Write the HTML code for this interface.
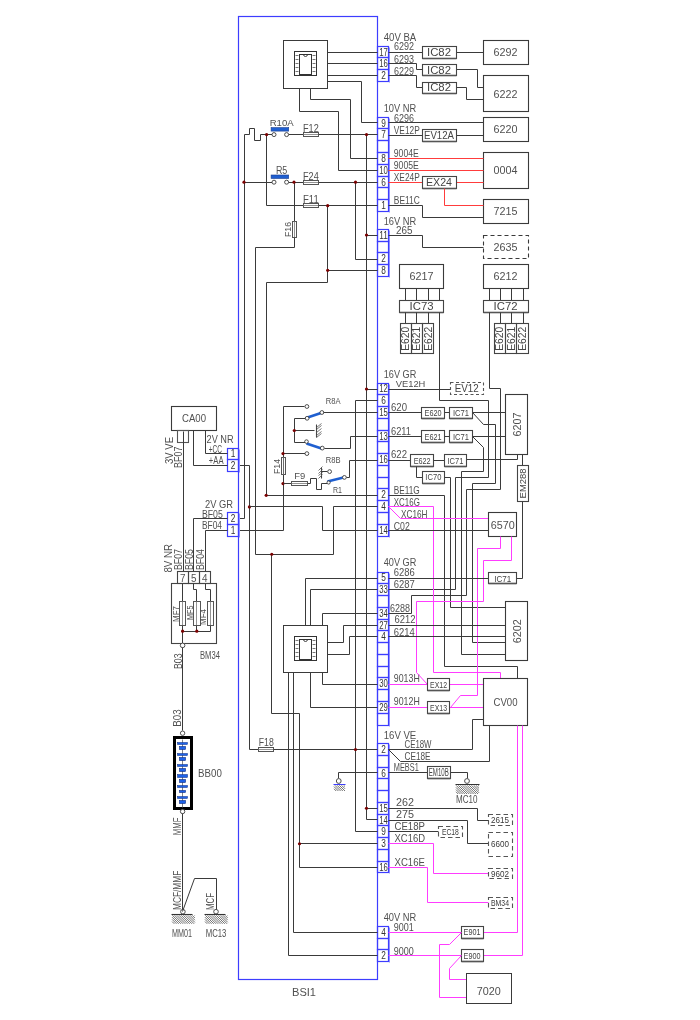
<!DOCTYPE html>
<html><head><meta charset="utf-8"><style>
html,body{margin:0;padding:0;background:#fff;}
svg{display:block;font-family:"Liberation Sans",sans-serif;will-change:transform;}
</style></head><body>
<svg width="700" height="1020" viewBox="0 0 700 1020">
<rect x="0" y="0" width="700" height="1020" fill="#fff"/>
<rect x="238.5" y="16.5" width="139" height="963" fill="none" stroke="#3d3dff" stroke-width="1.2"/>
<text x="304" y="995.5" font-size="10.5" text-anchor="middle" fill="#505050" textLength="24" lengthAdjust="spacingAndGlyphs">BSI1</text>
<polyline points="389.5,47.5 389.5,82.5" fill="none" stroke="#9a9aff" stroke-width="1" />
<rect x="377.5" y="46.5" width="11" height="11" fill="none" stroke="#3d3dff" stroke-width="1.2"/>
<text x="383.6" y="55.69" font-size="10" text-anchor="middle" fill="#333" textLength="8.6" lengthAdjust="spacingAndGlyphs">17</text>
<rect x="377.5" y="57.5" width="11" height="12" fill="none" stroke="#3d3dff" stroke-width="1.2"/>
<text x="383.6" y="67.45" font-size="10" text-anchor="middle" fill="#333" textLength="8.6" lengthAdjust="spacingAndGlyphs">16</text>
<rect x="377.5" y="69.5" width="11" height="12" fill="none" stroke="#3d3dff" stroke-width="1.2"/>
<text x="383.6" y="79.22" font-size="10" text-anchor="middle" fill="#333" textLength="4.6" lengthAdjust="spacingAndGlyphs">2</text>
<polyline points="389.5,118.5 389.5,212.5" fill="none" stroke="#9a9aff" stroke-width="1" />
<rect x="377.5" y="117.5" width="11" height="11" fill="none" stroke="#3d3dff" stroke-width="1.2"/>
<text x="383.6" y="126.69" font-size="10" text-anchor="middle" fill="#333" textLength="4.6" lengthAdjust="spacingAndGlyphs">9</text>
<rect x="377.5" y="128.5" width="11" height="12" fill="none" stroke="#3d3dff" stroke-width="1.2"/>
<text x="383.6" y="138.46" font-size="10" text-anchor="middle" fill="#333" textLength="4.6" lengthAdjust="spacingAndGlyphs">7</text>
<rect x="377.5" y="140.5" width="11" height="12" fill="none" stroke="#3d3dff" stroke-width="1.2"/>
<rect x="377.5" y="152.5" width="11" height="12" fill="none" stroke="#3d3dff" stroke-width="1.2"/>
<text x="383.6" y="161.99" font-size="10" text-anchor="middle" fill="#333" textLength="4.6" lengthAdjust="spacingAndGlyphs">8</text>
<rect x="377.5" y="164.5" width="11" height="12" fill="none" stroke="#3d3dff" stroke-width="1.2"/>
<text x="383.6" y="173.77" font-size="10" text-anchor="middle" fill="#333" textLength="8.6" lengthAdjust="spacingAndGlyphs">10</text>
<rect x="377.5" y="176.5" width="11" height="11" fill="none" stroke="#3d3dff" stroke-width="1.2"/>
<text x="383.6" y="185.53" font-size="10" text-anchor="middle" fill="#333" textLength="4.6" lengthAdjust="spacingAndGlyphs">6</text>
<rect x="377.5" y="187.5" width="11" height="12" fill="none" stroke="#3d3dff" stroke-width="1.2"/>
<rect x="377.5" y="199.5" width="11" height="12" fill="none" stroke="#3d3dff" stroke-width="1.2"/>
<text x="383.6" y="209.08" font-size="10" text-anchor="middle" fill="#333" textLength="4.6" lengthAdjust="spacingAndGlyphs">1</text>
<polyline points="389.5,230.5 389.5,277.5" fill="none" stroke="#9a9aff" stroke-width="1" />
<rect x="377.5" y="229.5" width="11" height="12" fill="none" stroke="#3d3dff" stroke-width="1.2"/>
<text x="383.6" y="238.78" font-size="10" text-anchor="middle" fill="#333" textLength="8.6" lengthAdjust="spacingAndGlyphs">11</text>
<rect x="377.5" y="241.5" width="11" height="11" fill="none" stroke="#3d3dff" stroke-width="1.2"/>
<rect x="377.5" y="252.5" width="11" height="12" fill="none" stroke="#3d3dff" stroke-width="1.2"/>
<text x="383.6" y="262.33" font-size="10" text-anchor="middle" fill="#333" textLength="4.6" lengthAdjust="spacingAndGlyphs">2</text>
<rect x="377.5" y="264.5" width="11" height="12" fill="none" stroke="#3d3dff" stroke-width="1.2"/>
<text x="383.6" y="274.1" font-size="10" text-anchor="middle" fill="#333" textLength="4.6" lengthAdjust="spacingAndGlyphs">8</text>
<polyline points="389.5,384.5 389.5,537.5" fill="none" stroke="#9a9aff" stroke-width="1" />
<rect x="377.5" y="383.5" width="11" height="11" fill="none" stroke="#3d3dff" stroke-width="1.2"/>
<text x="383.6" y="392.49" font-size="10" text-anchor="middle" fill="#333" textLength="8.6" lengthAdjust="spacingAndGlyphs">12</text>
<rect x="377.5" y="394.5" width="11" height="12" fill="none" stroke="#3d3dff" stroke-width="1.2"/>
<text x="383.6" y="404.25" font-size="10" text-anchor="middle" fill="#333" textLength="4.6" lengthAdjust="spacingAndGlyphs">6</text>
<rect x="377.5" y="406.5" width="11" height="12" fill="none" stroke="#3d3dff" stroke-width="1.2"/>
<text x="383.6" y="416.03" font-size="10" text-anchor="middle" fill="#333" textLength="8.6" lengthAdjust="spacingAndGlyphs">15</text>
<rect x="377.5" y="418.5" width="11" height="12" fill="none" stroke="#3d3dff" stroke-width="1.2"/>
<rect x="377.5" y="430.5" width="11" height="11" fill="none" stroke="#3d3dff" stroke-width="1.2"/>
<text x="383.6" y="439.56" font-size="10" text-anchor="middle" fill="#333" textLength="8.6" lengthAdjust="spacingAndGlyphs">13</text>
<rect x="377.5" y="441.5" width="11" height="12" fill="none" stroke="#3d3dff" stroke-width="1.2"/>
<rect x="377.5" y="453.5" width="11" height="12" fill="none" stroke="#3d3dff" stroke-width="1.2"/>
<text x="383.6" y="463.11" font-size="10" text-anchor="middle" fill="#333" textLength="8.6" lengthAdjust="spacingAndGlyphs">16</text>
<rect x="377.5" y="465.5" width="11" height="12" fill="none" stroke="#3d3dff" stroke-width="1.2"/>
<rect x="377.5" y="477.5" width="11" height="11" fill="none" stroke="#3d3dff" stroke-width="1.2"/>
<rect x="377.5" y="488.5" width="11" height="12" fill="none" stroke="#3d3dff" stroke-width="1.2"/>
<text x="383.6" y="498.42" font-size="10" text-anchor="middle" fill="#333" textLength="4.6" lengthAdjust="spacingAndGlyphs">2</text>
<rect x="377.5" y="500.5" width="11" height="12" fill="none" stroke="#3d3dff" stroke-width="1.2"/>
<text x="383.6" y="510.19" font-size="10" text-anchor="middle" fill="#333" textLength="4.6" lengthAdjust="spacingAndGlyphs">4</text>
<rect x="377.5" y="512.5" width="11" height="12" fill="none" stroke="#3d3dff" stroke-width="1.2"/>
<rect x="377.5" y="524.5" width="11" height="12" fill="none" stroke="#3d3dff" stroke-width="1.2"/>
<text x="383.6" y="533.73" font-size="10" text-anchor="middle" fill="#333" textLength="8.6" lengthAdjust="spacingAndGlyphs">14</text>
<polyline points="389.5,573.5 389.5,726.5" fill="none" stroke="#9a9aff" stroke-width="1" />
<rect x="377.5" y="572.5" width="11" height="11" fill="none" stroke="#3d3dff" stroke-width="1.2"/>
<text x="383.6" y="581.49" font-size="10" text-anchor="middle" fill="#333" textLength="4.6" lengthAdjust="spacingAndGlyphs">5</text>
<rect x="377.5" y="583.5" width="11" height="12" fill="none" stroke="#3d3dff" stroke-width="1.2"/>
<text x="383.6" y="593.25" font-size="10" text-anchor="middle" fill="#333" textLength="8.6" lengthAdjust="spacingAndGlyphs">33</text>
<rect x="377.5" y="595.5" width="11" height="12" fill="none" stroke="#3d3dff" stroke-width="1.2"/>
<rect x="377.5" y="607.5" width="11" height="12" fill="none" stroke="#3d3dff" stroke-width="1.2"/>
<text x="383.6" y="616.79" font-size="10" text-anchor="middle" fill="#333" textLength="8.6" lengthAdjust="spacingAndGlyphs">34</text>
<rect x="377.5" y="619.5" width="11" height="11" fill="none" stroke="#3d3dff" stroke-width="1.2"/>
<text x="383.6" y="628.57" font-size="10" text-anchor="middle" fill="#333" textLength="8.6" lengthAdjust="spacingAndGlyphs">27</text>
<rect x="377.5" y="630.5" width="11" height="12" fill="none" stroke="#3d3dff" stroke-width="1.2"/>
<text x="383.6" y="640.34" font-size="10" text-anchor="middle" fill="#333" textLength="4.6" lengthAdjust="spacingAndGlyphs">4</text>
<rect x="377.5" y="642.5" width="11" height="12" fill="none" stroke="#3d3dff" stroke-width="1.2"/>
<rect x="377.5" y="654.5" width="11" height="12" fill="none" stroke="#3d3dff" stroke-width="1.2"/>
<rect x="377.5" y="666.5" width="11" height="11" fill="none" stroke="#3d3dff" stroke-width="1.2"/>
<rect x="377.5" y="677.5" width="11" height="12" fill="none" stroke="#3d3dff" stroke-width="1.2"/>
<text x="383.6" y="687.41" font-size="10" text-anchor="middle" fill="#333" textLength="8.6" lengthAdjust="spacingAndGlyphs">30</text>
<rect x="377.5" y="689.5" width="11" height="12" fill="none" stroke="#3d3dff" stroke-width="1.2"/>
<rect x="377.5" y="701.5" width="11" height="12" fill="none" stroke="#3d3dff" stroke-width="1.2"/>
<text x="383.6" y="710.96" font-size="10" text-anchor="middle" fill="#333" textLength="8.6" lengthAdjust="spacingAndGlyphs">29</text>
<rect x="377.5" y="713.5" width="11" height="12" fill="none" stroke="#3d3dff" stroke-width="1.2"/>
<polyline points="389.5,744.5 389.5,873.5" fill="none" stroke="#9a9aff" stroke-width="1" />
<rect x="377.5" y="743.5" width="11" height="12" fill="none" stroke="#3d3dff" stroke-width="1.2"/>
<text x="383.6" y="752.99" font-size="10" text-anchor="middle" fill="#333" textLength="4.6" lengthAdjust="spacingAndGlyphs">2</text>
<rect x="377.5" y="755.5" width="11" height="12" fill="none" stroke="#3d3dff" stroke-width="1.2"/>
<rect x="377.5" y="767.5" width="11" height="11" fill="none" stroke="#3d3dff" stroke-width="1.2"/>
<text x="383.6" y="776.52" font-size="10" text-anchor="middle" fill="#333" textLength="4.6" lengthAdjust="spacingAndGlyphs">6</text>
<rect x="377.5" y="778.5" width="11" height="12" fill="none" stroke="#3d3dff" stroke-width="1.2"/>
<rect x="377.5" y="790.5" width="11" height="12" fill="none" stroke="#3d3dff" stroke-width="1.2"/>
<rect x="377.5" y="802.5" width="11" height="12" fill="none" stroke="#3d3dff" stroke-width="1.2"/>
<text x="383.6" y="811.84" font-size="10" text-anchor="middle" fill="#333" textLength="8.6" lengthAdjust="spacingAndGlyphs">15</text>
<rect x="377.5" y="814.5" width="11" height="11" fill="none" stroke="#3d3dff" stroke-width="1.2"/>
<text x="383.6" y="823.61" font-size="10" text-anchor="middle" fill="#333" textLength="8.6" lengthAdjust="spacingAndGlyphs">14</text>
<rect x="377.5" y="825.5" width="11" height="12" fill="none" stroke="#3d3dff" stroke-width="1.2"/>
<text x="383.6" y="835.38" font-size="10" text-anchor="middle" fill="#333" textLength="4.6" lengthAdjust="spacingAndGlyphs">9</text>
<rect x="377.5" y="837.5" width="11" height="12" fill="none" stroke="#3d3dff" stroke-width="1.2"/>
<text x="383.6" y="847.14" font-size="10" text-anchor="middle" fill="#333" textLength="4.6" lengthAdjust="spacingAndGlyphs">3</text>
<rect x="377.5" y="849.5" width="11" height="12" fill="none" stroke="#3d3dff" stroke-width="1.2"/>
<rect x="377.5" y="861.5" width="11" height="11" fill="none" stroke="#3d3dff" stroke-width="1.2"/>
<text x="383.6" y="870.69" font-size="10" text-anchor="middle" fill="#333" textLength="8.6" lengthAdjust="spacingAndGlyphs">16</text>
<polyline points="389.5,927.5 389.5,962.5" fill="none" stroke="#9a9aff" stroke-width="1" />
<rect x="377.5" y="926.5" width="11" height="12" fill="none" stroke="#3d3dff" stroke-width="1.2"/>
<text x="383.6" y="935.88" font-size="10" text-anchor="middle" fill="#333" textLength="4.6" lengthAdjust="spacingAndGlyphs">4</text>
<rect x="377.5" y="938.5" width="11" height="11" fill="none" stroke="#3d3dff" stroke-width="1.2"/>
<rect x="377.5" y="949.5" width="11" height="12" fill="none" stroke="#3d3dff" stroke-width="1.2"/>
<text x="383.6" y="959.42" font-size="10" text-anchor="middle" fill="#333" textLength="4.6" lengthAdjust="spacingAndGlyphs">2</text>
<text x="383.7" y="40.5" font-size="10" text-anchor="start" fill="#505050" textLength="32.6" lengthAdjust="spacingAndGlyphs">40V  BA</text>
<text x="383.7" y="111.5" font-size="10" text-anchor="start" fill="#505050" textLength="32.6" lengthAdjust="spacingAndGlyphs">10V  NR</text>
<text x="383.7" y="225" font-size="10" text-anchor="start" fill="#505050" textLength="32.6" lengthAdjust="spacingAndGlyphs">16V  NR</text>
<text x="383.7" y="377.7" font-size="10" text-anchor="start" fill="#505050" textLength="32.6" lengthAdjust="spacingAndGlyphs">16V  GR</text>
<text x="383.7" y="566" font-size="10" text-anchor="start" fill="#505050" textLength="32.6" lengthAdjust="spacingAndGlyphs">40V  GR</text>
<text x="383.7" y="739" font-size="10" text-anchor="start" fill="#505050" textLength="32.6" lengthAdjust="spacingAndGlyphs">16V  VE</text>
<text x="383.7" y="921" font-size="10" text-anchor="start" fill="#505050" textLength="32.6" lengthAdjust="spacingAndGlyphs">40V  NR</text>
<text x="394" y="49.5" font-size="10.5" text-anchor="start" fill="#505050" textLength="20" lengthAdjust="spacingAndGlyphs">6292</text>
<text x="394" y="62.5" font-size="10.5" text-anchor="start" fill="#505050" textLength="20" lengthAdjust="spacingAndGlyphs">6293</text>
<text x="394" y="74.5" font-size="10.5" text-anchor="start" fill="#505050" textLength="20" lengthAdjust="spacingAndGlyphs">6229</text>
<text x="394" y="121.5" font-size="10.5" text-anchor="start" fill="#505050" textLength="20" lengthAdjust="spacingAndGlyphs">6296</text>
<text x="393.8" y="134" font-size="10.5" text-anchor="start" fill="#505050" textLength="26" lengthAdjust="spacingAndGlyphs">VE12P</text>
<text x="393.8" y="157" font-size="10.5" text-anchor="start" fill="#505050" textLength="25" lengthAdjust="spacingAndGlyphs">9004E</text>
<text x="393.8" y="169" font-size="10.5" text-anchor="start" fill="#505050" textLength="25" lengthAdjust="spacingAndGlyphs">9005E</text>
<text x="393.8" y="180.5" font-size="10.5" text-anchor="start" fill="#505050" textLength="26" lengthAdjust="spacingAndGlyphs">XE24P</text>
<text x="393.8" y="204" font-size="10.5" text-anchor="start" fill="#505050" textLength="26" lengthAdjust="spacingAndGlyphs">BE11C</text>
<text x="396" y="234" font-size="10.5" text-anchor="start" fill="#505050" textLength="16.5" lengthAdjust="spacingAndGlyphs">265</text>
<text x="395.7" y="387" font-size="9" text-anchor="start" fill="#505050" textLength="29.7" lengthAdjust="spacingAndGlyphs">VE12H</text>
<text x="391" y="411" font-size="10.5" text-anchor="start" fill="#505050" textLength="16" lengthAdjust="spacingAndGlyphs">620</text>
<text x="391" y="435" font-size="10.5" text-anchor="start" fill="#505050" textLength="20" lengthAdjust="spacingAndGlyphs">6211</text>
<text x="391" y="458.3" font-size="10.5" text-anchor="start" fill="#505050" textLength="16" lengthAdjust="spacingAndGlyphs">622</text>
<text x="393.8" y="494" font-size="10.5" text-anchor="start" fill="#505050" textLength="26" lengthAdjust="spacingAndGlyphs">BE11G</text>
<text x="393.8" y="506" font-size="10.5" text-anchor="start" fill="#505050" textLength="26" lengthAdjust="spacingAndGlyphs">XC16G</text>
<text x="401" y="518" font-size="10.5" text-anchor="start" fill="#505050" textLength="26.5" lengthAdjust="spacingAndGlyphs">XC16H</text>
<text x="393.8" y="530" font-size="10.5" text-anchor="start" fill="#505050" textLength="16" lengthAdjust="spacingAndGlyphs">C02</text>
<text x="393.8" y="576" font-size="10.5" text-anchor="start" fill="#505050" textLength="21" lengthAdjust="spacingAndGlyphs">6286</text>
<text x="393.8" y="587.5" font-size="10.5" text-anchor="start" fill="#505050" textLength="21" lengthAdjust="spacingAndGlyphs">6287</text>
<text x="390" y="612" font-size="10.5" text-anchor="start" fill="#505050" textLength="20" lengthAdjust="spacingAndGlyphs">6288</text>
<text x="394.5" y="623" font-size="10.5" text-anchor="start" fill="#505050" textLength="21" lengthAdjust="spacingAndGlyphs">6212</text>
<text x="393.8" y="635.5" font-size="10.5" text-anchor="start" fill="#505050" textLength="21" lengthAdjust="spacingAndGlyphs">6214</text>
<text x="393.8" y="682" font-size="10.5" text-anchor="start" fill="#505050" textLength="26" lengthAdjust="spacingAndGlyphs">9013H</text>
<text x="393.8" y="705" font-size="10.5" text-anchor="start" fill="#505050" textLength="26" lengthAdjust="spacingAndGlyphs">9012H</text>
<text x="404.5" y="747.5" font-size="10.5" text-anchor="start" fill="#505050" textLength="27" lengthAdjust="spacingAndGlyphs">CE18W</text>
<text x="404.5" y="760" font-size="10.5" text-anchor="start" fill="#505050" textLength="26" lengthAdjust="spacingAndGlyphs">CE18E</text>
<text x="393.8" y="771.3" font-size="10.5" text-anchor="start" fill="#505050" textLength="25" lengthAdjust="spacingAndGlyphs">MEBS1</text>
<text x="396" y="806.3" font-size="10.5" text-anchor="start" fill="#505050" textLength="18" lengthAdjust="spacingAndGlyphs">262</text>
<text x="396" y="818" font-size="10.5" text-anchor="start" fill="#505050" textLength="18" lengthAdjust="spacingAndGlyphs">275</text>
<text x="394.5" y="830" font-size="10.5" text-anchor="start" fill="#505050" textLength="30.5" lengthAdjust="spacingAndGlyphs">CE18P</text>
<text x="394.5" y="842" font-size="10.5" text-anchor="start" fill="#505050" textLength="30.5" lengthAdjust="spacingAndGlyphs">XC16D</text>
<text x="394.5" y="865.5" font-size="10.5" text-anchor="start" fill="#505050" textLength="30.5" lengthAdjust="spacingAndGlyphs">XC16E</text>
<text x="393.8" y="931.3" font-size="10.5" text-anchor="start" fill="#505050" textLength="20" lengthAdjust="spacingAndGlyphs">9001</text>
<text x="393.8" y="954.5" font-size="10.5" text-anchor="start" fill="#505050" textLength="20" lengthAdjust="spacingAndGlyphs">9000</text>
<rect x="283.5" y="40.5" width="44" height="48" fill="none" stroke="#3a3a3a" stroke-width="1.0"/>
<rect x="294.5" y="51.5" width="22" height="24" fill="none" stroke="#333" stroke-width="1.0"/>
<rect x="299.5" y="54.5" width="12" height="20" fill="none" stroke="#333" stroke-width="1.0"/>
<polyline points="295.5,55.5 298.5,55.5" fill="none" stroke="#777" stroke-width="1" />
<polyline points="312.5,55.5 315.5,55.5" fill="none" stroke="#777" stroke-width="1" />
<polyline points="295.5,59.5 298.5,59.5" fill="none" stroke="#777" stroke-width="1" />
<polyline points="312.5,59.5 315.5,59.5" fill="none" stroke="#777" stroke-width="1" />
<polyline points="295.5,63.5 298.5,63.5" fill="none" stroke="#777" stroke-width="1" />
<polyline points="312.5,63.5 315.5,63.5" fill="none" stroke="#777" stroke-width="1" />
<polyline points="295.5,67.5 298.5,67.5" fill="none" stroke="#777" stroke-width="1" />
<polyline points="312.5,67.5 315.5,67.5" fill="none" stroke="#777" stroke-width="1" />
<polyline points="295.5,71.5 298.5,71.5" fill="none" stroke="#777" stroke-width="1" />
<polyline points="312.5,71.5 315.5,71.5" fill="none" stroke="#777" stroke-width="1" />
<path d="M303.5,54.5 a2,2 0 0 0 4,0" fill="none" stroke="#333" stroke-width="0.9"/>
<polyline points="327.5,52.5 377.5,52.5" fill="none" stroke="#3a3a3a" stroke-width="1.0" />
<polyline points="327.5,63.5 377.5,63.5" fill="none" stroke="#3a3a3a" stroke-width="1.0" />
<polyline points="327.5,75.5 377.5,75.5" fill="none" stroke="#3a3a3a" stroke-width="1.0" />
<polyline points="327.5,81.5 361.5,81.5 361.5,122.5 377.5,122.5" fill="none" stroke="#3a3a3a" stroke-width="1.0" />
<polyline points="299.5,88.5 299.5,111.5 338.5,111.5 338.5,170.5 377.5,170.5" fill="none" stroke="#3a3a3a" stroke-width="1.0" />
<polyline points="310.5,88.5 310.5,99.5 350.5,99.5 350.5,158.5 377.5,158.5" fill="none" stroke="#3a3a3a" stroke-width="1.0" />
<polyline points="388.5,52.5 422.5,52.5" fill="none" stroke="#3a3a3a" stroke-width="1.0" />
<polyline points="456.5,52.5 483.5,52.5" fill="none" stroke="#3a3a3a" stroke-width="1.0" />
<polyline points="388.5,63.5 416.5,63.5 416.5,69.5 422.5,69.5" fill="none" stroke="#3a3a3a" stroke-width="1.0" />
<polyline points="388.5,75.5 416.5,75.5 416.5,87.5 422.5,87.5" fill="none" stroke="#3a3a3a" stroke-width="1.0" />
<polyline points="456.5,69.5 477.5,69.5 477.5,87.5 483.5,87.5" fill="none" stroke="#3a3a3a" stroke-width="1.0" />
<polyline points="456.5,87.5 466.5,87.5 466.5,99.5 483.5,99.5" fill="none" stroke="#3a3a3a" stroke-width="1.0" />
<rect x="422.5" y="46.5" width="34" height="12" fill="none" stroke="#444" stroke-width="1.1"/>
<polyline points="422.5,58.5 456.5,58.5" fill="none" stroke="#555" stroke-width="1.6" />
<text x="439" y="55.73" font-size="10" text-anchor="middle" fill="#444" textLength="24" lengthAdjust="spacingAndGlyphs">IC82</text>
<rect x="422.5" y="64.5" width="34" height="11" fill="none" stroke="#444" stroke-width="1.1"/>
<polyline points="422.5,75.5 456.5,75.5" fill="none" stroke="#555" stroke-width="1.6" />
<text x="439" y="73.72" font-size="10" text-anchor="middle" fill="#444" textLength="24" lengthAdjust="spacingAndGlyphs">IC82</text>
<rect x="422.5" y="82.5" width="34" height="11" fill="none" stroke="#444" stroke-width="1.1"/>
<polyline points="422.5,93.5 456.5,93.5" fill="none" stroke="#555" stroke-width="1.6" />
<text x="439" y="91.1" font-size="10" text-anchor="middle" fill="#444" textLength="24" lengthAdjust="spacingAndGlyphs">IC82</text>
<rect x="483.5" y="40.5" width="45" height="24" fill="none" stroke="#3a3a3a" stroke-width="1.1"/>
<text x="505.62" y="56.39" font-size="11.5" text-anchor="middle" fill="#505050" textLength="24" lengthAdjust="spacingAndGlyphs">6292</text>
<rect x="483.5" y="75.5" width="45" height="36" fill="none" stroke="#3a3a3a" stroke-width="1.1"/>
<text x="505.62" y="97.52" font-size="11.5" text-anchor="middle" fill="#505050" textLength="24" lengthAdjust="spacingAndGlyphs">6222</text>
<rect x="483.5" y="117.5" width="45" height="24" fill="none" stroke="#3a3a3a" stroke-width="1.1"/>
<text x="505.62" y="133.39" font-size="11.5" text-anchor="middle" fill="#505050" textLength="24" lengthAdjust="spacingAndGlyphs">6220</text>
<rect x="483.5" y="152.5" width="45" height="36" fill="none" stroke="#3a3a3a" stroke-width="1.1"/>
<text x="505.62" y="174.39" font-size="11.5" text-anchor="middle" fill="#505050" textLength="24" lengthAdjust="spacingAndGlyphs">0004</text>
<rect x="483.5" y="199.5" width="45" height="24" fill="none" stroke="#3a3a3a" stroke-width="1.1"/>
<text x="505.62" y="215.39" font-size="11.5" text-anchor="middle" fill="#505050" textLength="24" lengthAdjust="spacingAndGlyphs">7215</text>
<rect x="483.5" y="235.5" width="45" height="23" fill="none" stroke="#3a3a3a" stroke-width="1.1" stroke-dasharray="4,3"/>
<text x="505.62" y="251.01" font-size="11.5" text-anchor="middle" fill="#505050" textLength="24" lengthAdjust="spacingAndGlyphs">2635</text>
<polyline points="388.5,122.5 483.5,122.5" fill="none" stroke="#3a3a3a" stroke-width="1.0" />
<polyline points="388.5,135.5 422.5,135.5" fill="none" stroke="#3a3a3a" stroke-width="1.0" />
<polyline points="456.5,135.5 483.5,135.5" fill="none" stroke="#3a3a3a" stroke-width="1.0" />
<rect x="422.5" y="129.5" width="34" height="12" fill="none" stroke="#444" stroke-width="1.1"/>
<polyline points="422.5,141.5 456.5,141.5" fill="none" stroke="#555" stroke-width="1.6" />
<text x="439" y="138.6" font-size="10" text-anchor="middle" fill="#444" textLength="30" lengthAdjust="spacingAndGlyphs">EV12A</text>
<polyline points="388.5,158.5 483.5,158.5" fill="none" stroke="#ff3c3c" stroke-width="1.0" />
<polyline points="388.5,170.5 483.5,170.5" fill="none" stroke="#ff3c3c" stroke-width="1.0" />
<polyline points="388.5,182.5 422.5,182.5" fill="none" stroke="#ff3c3c" stroke-width="1.0" />
<polyline points="456.5,182.5 483.5,182.5" fill="none" stroke="#ff3c3c" stroke-width="1.0" />
<rect x="422.5" y="176.5" width="34" height="12" fill="none" stroke="#444" stroke-width="1.1"/>
<polyline points="422.5,188.5 456.5,188.5" fill="none" stroke="#555" stroke-width="1.6" />
<text x="439" y="185.6" font-size="10" text-anchor="middle" fill="#444" textLength="26" lengthAdjust="spacingAndGlyphs">EX24</text>
<polyline points="444.5,188.5 444.5,205.5 483.5,205.5" fill="none" stroke="#ff3c3c" stroke-width="1.0" />
<polyline points="388.5,205.5 422.5,205.5 422.5,217.5 483.5,217.5" fill="none" stroke="#3a3a3a" stroke-width="1.0" />
<polyline points="388.5,235.5 422.5,235.5 422.5,247.5 483.5,247.5" fill="none" stroke="#3a3a3a" stroke-width="1.0" />
<polyline points="244.5,134.5 249.5,134.5 249.5,128.5 254.5,128.5 254.5,140.5 260.5,140.5 260.5,134.5 266.5,134.5 272.5,134.5" fill="none" stroke="#3a3a3a" stroke-width="1.0" />
<polyline points="244.5,134.5 244.5,518.5 238.5,518.5" fill="none" stroke="#3a3a3a" stroke-width="1.0" />
<polyline points="288.5,134.5 303.5,134.5" fill="none" stroke="#3a3a3a" stroke-width="1.0" />
<rect x="303.5" y="132.5" width="15" height="4" fill="none" stroke="#555" stroke-width="1.0"/>
<polyline points="303.5,134.5 318.5,134.5" fill="none" stroke="#777" stroke-width="0.8" />
<polyline points="318.5,134.5 377.5,134.5" fill="none" stroke="#3a3a3a" stroke-width="1.0" />
<circle cx="274" cy="134.6" r="2" fill="#fff" stroke="#3a3a3a" stroke-width="0.9"/>
<circle cx="286.6" cy="134.6" r="2" fill="#fff" stroke="#3a3a3a" stroke-width="0.9"/>
<rect x="271.1" y="127.6" width="17.6" height="3.5" fill="#1f5fd0" stroke="#1a3d8f" stroke-width="0.6"/>
<text x="269.7" y="126.4" font-size="9" text-anchor="start" fill="#505050" textLength="24" lengthAdjust="spacingAndGlyphs">R10A</text>
<text x="303" y="132" font-size="10.5" text-anchor="start" fill="#505050" textLength="15.7" lengthAdjust="spacingAndGlyphs">F12</text>
<polyline points="244.5,182.5 272.5,182.5" fill="none" stroke="#3a3a3a" stroke-width="1.0" />
<polyline points="288.5,182.5 303.5,182.5" fill="none" stroke="#3a3a3a" stroke-width="1.0" />
<rect x="303.5" y="180.5" width="15" height="4" fill="none" stroke="#555" stroke-width="1.0"/>
<polyline points="303.5,182.5 318.5,182.5" fill="none" stroke="#777" stroke-width="0.8" />
<polyline points="318.5,182.5 377.5,182.5" fill="none" stroke="#3a3a3a" stroke-width="1.0" />
<circle cx="274" cy="182.2" r="2" fill="#fff" stroke="#3a3a3a" stroke-width="0.9"/>
<circle cx="286.6" cy="182.2" r="2" fill="#fff" stroke="#3a3a3a" stroke-width="0.9"/>
<rect x="271.1" y="175" width="17.6" height="3.5" fill="#1f5fd0" stroke="#1a3d8f" stroke-width="0.6"/>
<text x="275.9" y="173.6" font-size="10" text-anchor="start" fill="#505050" textLength="11.4" lengthAdjust="spacingAndGlyphs">R5</text>
<text x="303" y="180" font-size="10.5" text-anchor="start" fill="#505050" textLength="15.7" lengthAdjust="spacingAndGlyphs">F24</text>
<polyline points="266.5,134.5 266.5,205.5 303.5,205.5" fill="none" stroke="#3a3a3a" stroke-width="1.0" />
<rect x="303.5" y="203.5" width="15" height="4" fill="none" stroke="#555" stroke-width="1.0"/>
<polyline points="303.5,205.5 318.5,205.5" fill="none" stroke="#777" stroke-width="0.8" />
<polyline points="318.5,205.5 377.5,205.5" fill="none" stroke="#3a3a3a" stroke-width="1.0" />
<text x="303" y="203" font-size="10.5" text-anchor="start" fill="#505050" textLength="15.7" lengthAdjust="spacingAndGlyphs">F11</text>
<polyline points="294.5,182.5 294.5,221.5" fill="none" stroke="#3a3a3a" stroke-width="1.0" />
<rect x="292.5" y="221.5" width="4" height="16" fill="none" stroke="#555" stroke-width="1.0"/>
<polyline points="294.5,221.5 294.5,237.5" fill="none" stroke="#777" stroke-width="0.8" />
<polyline points="294.5,237.5 294.5,247.5 255.5,247.5 255.5,554.5 333.5,554.5 333.5,506.5 377.5,506.5" fill="none" stroke="#3a3a3a" stroke-width="1.0" />
<text x="291" y="237" font-size="9.5" text-anchor="start" fill="#505050" textLength="15" lengthAdjust="spacingAndGlyphs" transform="rotate(-90 291 237)">F16</text>
<polyline points="327.5,205.5 327.5,282.5 266.5,282.5 266.5,495.5 377.5,495.5" fill="none" stroke="#3a3a3a" stroke-width="1.0" />
<polyline points="327.5,270.5 377.5,270.5" fill="none" stroke="#3a3a3a" stroke-width="1.0" />
<polyline points="355.5,182.5 355.5,259.5 377.5,259.5" fill="none" stroke="#3a3a3a" stroke-width="1.0" />
<polyline points="366.5,134.5 366.5,819.5 377.5,819.5" fill="none" stroke="#3a3a3a" stroke-width="1.0" />
<polyline points="366.5,235.5 377.5,235.5" fill="none" stroke="#3a3a3a" stroke-width="1.0" />
<polyline points="366.5,389.5 377.5,389.5" fill="none" stroke="#3a3a3a" stroke-width="1.0" />
<circle cx="266.6" cy="134.6" r="1.6" fill="#7a0000"/>
<circle cx="244" cy="182.2" r="1.6" fill="#7a0000"/>
<circle cx="294" cy="182.2" r="1.6" fill="#7a0000"/>
<circle cx="355.5" cy="182.2" r="1.6" fill="#7a0000"/>
<circle cx="327.7" cy="205.7" r="1.6" fill="#7a0000"/>
<circle cx="366.5" cy="134.6" r="1.6" fill="#7a0000"/>
<circle cx="366.5" cy="235" r="1.6" fill="#7a0000"/>
<circle cx="327.7" cy="270.3" r="1.6" fill="#7a0000"/>
<circle cx="366.5" cy="389" r="1.6" fill="#7a0000"/>
<circle cx="266.2" cy="495.3" r="1.6" fill="#7a0000"/>
<polyline points="355.5,400.5 377.5,400.5" fill="none" stroke="#3a3a3a" stroke-width="1.0" />
<polyline points="355.5,400.5 355.5,831.5 377.5,831.5" fill="none" stroke="#3a3a3a" stroke-width="1.0" />
<polyline points="283.5,406.5 304.5,406.5" fill="none" stroke="#3a3a3a" stroke-width="1.0" />
<circle cx="306.9" cy="406.5" r="1.9" fill="#fff" stroke="#3a3a3a" stroke-width="0.9"/>
<polyline points="283.5,406.5 283.5,530.5 238.5,530.5" fill="none" stroke="#3a3a3a" stroke-width="1.0" />
<polyline points="307.5,417.5 322.5,412.5" fill="none" stroke="#1f5fd0" stroke-width="2.8" />
<circle cx="307.1" cy="418.3" r="1.9" fill="#fff" stroke="#3a3a3a" stroke-width="0.9"/>
<circle cx="321.9" cy="412.5" r="1.9" fill="#fff" stroke="#3a3a3a" stroke-width="0.9"/>
<polyline points="323.5,412.5 377.5,412.5" fill="none" stroke="#3a3a3a" stroke-width="1.0" />
<polyline points="305.5,418.5 294.5,418.5 294.5,442.5 305.5,442.5" fill="none" stroke="#3a3a3a" stroke-width="1.0" />
<polyline points="294.5,430.5 314.5,430.5" fill="none" stroke="#3a3a3a" stroke-width="1.0" />
<polyline points="316.5,424.5 316.5,437.5" fill="none" stroke="#444" stroke-width="1.1" />
<polyline points="316.5,427.5 321.5,423.5" fill="none" stroke="#555" stroke-width="0.8" />
<polyline points="316.5,429.5 321.5,425.5" fill="none" stroke="#555" stroke-width="0.8" />
<polyline points="316.5,432.5 321.5,428.5" fill="none" stroke="#555" stroke-width="0.8" />
<polyline points="316.5,435.5 321.5,431.5" fill="none" stroke="#555" stroke-width="0.8" />
<polyline points="316.5,437.5 321.5,433.5" fill="none" stroke="#555" stroke-width="0.8" />
<circle cx="294.3" cy="430.5" r="1.6" fill="#7a0000"/>
<polyline points="306.5,443.5 321.5,448.5" fill="none" stroke="#1f5fd0" stroke-width="2.8" />
<circle cx="306.5" cy="441.6" r="1.8" fill="#fff" stroke="#3a3a3a" stroke-width="0.9"/>
<circle cx="322.3" cy="448.1" r="1.9" fill="#fff" stroke="#3a3a3a" stroke-width="0.9"/>
<polyline points="324.5,448.5 350.5,448.5 350.5,436.5 377.5,436.5" fill="none" stroke="#3a3a3a" stroke-width="1.0" />
<polyline points="283.5,453.5 305.5,453.5" fill="none" stroke="#3a3a3a" stroke-width="1.0" />
<circle cx="306.9" cy="453.6" r="1.9" fill="#fff" stroke="#3a3a3a" stroke-width="0.9"/>
<circle cx="283" cy="453.6" r="1.6" fill="#7a0000"/>
<rect x="281.5" y="457.5" width="4" height="17" fill="none" stroke="#555" stroke-width="1.0"/>
<polyline points="283.5,457.5 283.5,474.5" fill="none" stroke="#777" stroke-width="0.8" />
<text x="279.5" y="474" font-size="9.5" text-anchor="start" fill="#505050" textLength="15" lengthAdjust="spacingAndGlyphs" transform="rotate(-90 279.5 474)">F14</text>
<circle cx="283" cy="483.6" r="1.6" fill="#7a0000"/>
<polyline points="283.5,483.5 291.5,483.5" fill="none" stroke="#3a3a3a" stroke-width="1.0" />
<rect x="291.5" y="481.5" width="16" height="4" fill="none" stroke="#555" stroke-width="1.0"/>
<polyline points="291.5,483.5 307.5,483.5" fill="none" stroke="#777" stroke-width="0.8" />
<polyline points="307.5,483.5 310.5,483.5 310.5,478.5 316.5,478.5 316.5,489.5 321.5,489.5 321.5,483.5 327.5,483.5" fill="none" stroke="#3a3a3a" stroke-width="1.0" />
<text x="294.3" y="479.4" font-size="9" text-anchor="start" fill="#505050" textLength="11" lengthAdjust="spacingAndGlyphs">F9</text>
<polyline points="321.5,467.5 321.5,478.5" fill="none" stroke="#444" stroke-width="1.1" />
<polyline points="318.5,470.5 322.5,466.5" fill="none" stroke="#555" stroke-width="0.8" />
<polyline points="318.5,473.5 322.5,469.5" fill="none" stroke="#555" stroke-width="0.8" />
<polyline points="318.5,475.5 322.5,472.5" fill="none" stroke="#555" stroke-width="0.8" />
<polyline points="318.5,478.5 322.5,474.5" fill="none" stroke="#555" stroke-width="0.8" />
<polyline points="321.5,471.5 327.5,471.5" fill="none" stroke="#3a3a3a" stroke-width="1.0" />
<circle cx="329.6" cy="471.6" r="1.9" fill="#fff" stroke="#3a3a3a" stroke-width="0.9"/>
<polyline points="327.5,481.5 343.5,477.5" fill="none" stroke="#1f5fd0" stroke-width="2.8" />
<circle cx="328.6" cy="482.5" r="1.6" fill="#fff" stroke="#3a3a3a" stroke-width="0.9"/>
<circle cx="344.4" cy="477.4" r="1.9" fill="#fff" stroke="#3a3a3a" stroke-width="0.9"/>
<polyline points="346.5,477.5 349.5,477.5 349.5,460.5 377.5,460.5" fill="none" stroke="#3a3a3a" stroke-width="1.0" />
<text x="325.8" y="403.5" font-size="9" text-anchor="start" fill="#505050" textLength="14.8" lengthAdjust="spacingAndGlyphs">R8A</text>
<text x="325.8" y="463.3" font-size="9" text-anchor="start" fill="#505050" textLength="14.8" lengthAdjust="spacingAndGlyphs">R8B</text>
<text x="332.9" y="492.9" font-size="9" text-anchor="start" fill="#505050" textLength="9" lengthAdjust="spacingAndGlyphs">R1</text>
<rect x="399.5" y="264.5" width="44" height="24" fill="none" stroke="#3a3a3a" stroke-width="1.1"/>
<text x="421.62" y="280.39" font-size="11.5" text-anchor="middle" fill="#505050" textLength="24" lengthAdjust="spacingAndGlyphs">6217</text>
<rect x="483.5" y="264.5" width="45" height="24" fill="none" stroke="#3a3a3a" stroke-width="1.1"/>
<text x="505.62" y="280.39" font-size="11.5" text-anchor="middle" fill="#505050" textLength="24" lengthAdjust="spacingAndGlyphs">6212</text>
<polyline points="405.5,288.5 405.5,300.5" fill="none" stroke="#3a3a3a" stroke-width="1.0" />
<polyline points="416.5,288.5 416.5,300.5" fill="none" stroke="#3a3a3a" stroke-width="1.0" />
<polyline points="428.5,288.5 428.5,300.5" fill="none" stroke="#3a3a3a" stroke-width="1.0" />
<polyline points="439.5,288.5 439.5,300.5" fill="none" stroke="#3a3a3a" stroke-width="1.0" />
<polyline points="489.5,288.5 489.5,300.5" fill="none" stroke="#3a3a3a" stroke-width="1.0" />
<polyline points="500.5,288.5 500.5,300.5" fill="none" stroke="#3a3a3a" stroke-width="1.0" />
<polyline points="511.5,288.5 511.5,300.5" fill="none" stroke="#3a3a3a" stroke-width="1.0" />
<polyline points="523.5,288.5 523.5,300.5" fill="none" stroke="#3a3a3a" stroke-width="1.0" />
<rect x="399.5" y="300.5" width="44" height="12" fill="none" stroke="#444" stroke-width="1.1"/>
<polyline points="399.5,312.5 443.5,312.5" fill="none" stroke="#555" stroke-width="1.6" />
<text x="421.62" y="310.03" font-size="10.5" text-anchor="middle" fill="#444" textLength="24" lengthAdjust="spacingAndGlyphs">IC73</text>
<rect x="483.5" y="300.5" width="45" height="12" fill="none" stroke="#444" stroke-width="1.1"/>
<polyline points="483.5,312.5 528.5,312.5" fill="none" stroke="#555" stroke-width="1.6" />
<text x="505.62" y="310.03" font-size="10.5" text-anchor="middle" fill="#444" textLength="24" lengthAdjust="spacingAndGlyphs">IC72</text>
<polyline points="405.5,312.5 405.5,323.5" fill="none" stroke="#3a3a3a" stroke-width="1.0" />
<polyline points="416.5,312.5 416.5,323.5" fill="none" stroke="#3a3a3a" stroke-width="1.0" />
<polyline points="428.5,312.5 428.5,323.5" fill="none" stroke="#3a3a3a" stroke-width="1.0" />
<polyline points="500.5,312.5 500.5,323.5" fill="none" stroke="#3a3a3a" stroke-width="1.0" />
<polyline points="511.5,312.5 511.5,323.5" fill="none" stroke="#3a3a3a" stroke-width="1.0" />
<polyline points="523.5,312.5 523.5,323.5" fill="none" stroke="#3a3a3a" stroke-width="1.0" />
<rect x="400.5" y="323.5" width="11" height="30" fill="none" stroke="#444" stroke-width="1.1"/>
<text x="409.23" y="338.75" font-size="10" text-anchor="middle" fill="#444" textLength="24" lengthAdjust="spacingAndGlyphs" transform="rotate(-90 409.23 338.75)">E620</text>
<rect x="411.5" y="323.5" width="11" height="30" fill="none" stroke="#444" stroke-width="1.1"/>
<text x="420.48" y="338.75" font-size="10" text-anchor="middle" fill="#444" textLength="24" lengthAdjust="spacingAndGlyphs" transform="rotate(-90 420.48 338.75)">E621</text>
<rect x="422.5" y="323.5" width="11" height="30" fill="none" stroke="#444" stroke-width="1.1"/>
<text x="431.73" y="338.75" font-size="10" text-anchor="middle" fill="#444" textLength="24" lengthAdjust="spacingAndGlyphs" transform="rotate(-90 431.73 338.75)">E622</text>
<rect x="494.5" y="323.5" width="11" height="30" fill="none" stroke="#444" stroke-width="1.1"/>
<text x="503.48" y="338.75" font-size="10" text-anchor="middle" fill="#444" textLength="24" lengthAdjust="spacingAndGlyphs" transform="rotate(-90 503.48 338.75)">E620</text>
<rect x="505.5" y="323.5" width="11" height="30" fill="none" stroke="#444" stroke-width="1.1"/>
<text x="514.73" y="338.75" font-size="10" text-anchor="middle" fill="#444" textLength="24" lengthAdjust="spacingAndGlyphs" transform="rotate(-90 514.73 338.75)">E621</text>
<rect x="516.5" y="323.5" width="12" height="30" fill="none" stroke="#444" stroke-width="1.1"/>
<text x="525.98" y="338.75" font-size="10" text-anchor="middle" fill="#444" textLength="24" lengthAdjust="spacingAndGlyphs" transform="rotate(-90 525.98 338.75)">E622</text>
<polyline points="439.5,312.5 439.5,400.5 488.5,400.5 488.5,477.5 455.5,477.5 455.5,589.5 388.5,589.5" fill="none" stroke="#3a3a3a" stroke-width="1.0" />
<polyline points="489.5,312.5 489.5,388.5 500.5,388.5 500.5,489.5 466.5,489.5 466.5,595.5 411.5,595.5 411.5,613.5 388.5,613.5" fill="none" stroke="#3a3a3a" stroke-width="1.0" />
<polyline points="388.5,389.5 450.5,389.5" fill="none" stroke="#3a3a3a" stroke-width="1.0" />
<rect x="450.5" y="382.5" width="33" height="12" fill="none" stroke="#555" stroke-width="1.1" stroke-dasharray="3,2.5"/>
<text x="466.7" y="392.3" font-size="10.5" text-anchor="middle" fill="#444" textLength="24" lengthAdjust="spacingAndGlyphs">EV12</text>
<polyline points="388.5,412.5 421.5,412.5" fill="none" stroke="#3a3a3a" stroke-width="1.0" />
<polyline points="444.5,412.5 449.5,412.5" fill="none" stroke="#3a3a3a" stroke-width="1.0" />
<polyline points="472.5,412.5 505.5,412.5" fill="none" stroke="#3a3a3a" stroke-width="1.0" />
<rect x="421.5" y="407.5" width="23" height="11" fill="none" stroke="#444" stroke-width="1.1"/>
<polyline points="421.5,418.5 444.5,418.5" fill="none" stroke="#555" stroke-width="1.6" />
<text x="433.05" y="416.29" font-size="9" text-anchor="middle" fill="#444" textLength="17" lengthAdjust="spacingAndGlyphs">E620</text>
<rect x="449.5" y="407.5" width="23" height="11" fill="none" stroke="#444" stroke-width="1.1"/>
<polyline points="449.5,418.5 472.5,418.5" fill="none" stroke="#555" stroke-width="1.6" />
<text x="461" y="416.29" font-size="9" text-anchor="middle" fill="#444" textLength="16" lengthAdjust="spacingAndGlyphs">IC71</text>
<polyline points="472.5,412.5 483.5,424.5 495.5,424.5 495.5,483.5 472.5,483.5 472.5,642.5 505.5,642.5" fill="none" stroke="#3a3a3a" stroke-width="1.0" />
<polyline points="388.5,436.5 421.5,436.5" fill="none" stroke="#3a3a3a" stroke-width="1.0" />
<polyline points="444.5,436.5 449.5,436.5" fill="none" stroke="#3a3a3a" stroke-width="1.0" />
<polyline points="472.5,436.5 505.5,436.5" fill="none" stroke="#3a3a3a" stroke-width="1.0" />
<rect x="421.5" y="430.5" width="23" height="12" fill="none" stroke="#444" stroke-width="1.1"/>
<polyline points="421.5,442.5 444.5,442.5" fill="none" stroke="#555" stroke-width="1.6" />
<text x="433.05" y="439.69" font-size="9" text-anchor="middle" fill="#444" textLength="17" lengthAdjust="spacingAndGlyphs">E621</text>
<rect x="449.5" y="430.5" width="23" height="12" fill="none" stroke="#444" stroke-width="1.1"/>
<polyline points="449.5,442.5 472.5,442.5" fill="none" stroke="#555" stroke-width="1.6" />
<text x="461" y="439.69" font-size="9" text-anchor="middle" fill="#444" textLength="16" lengthAdjust="spacingAndGlyphs">IC71</text>
<polyline points="472.5,436.5 483.5,447.5 483.5,471.5 461.5,471.5 461.5,654.5 505.5,654.5" fill="none" stroke="#3a3a3a" stroke-width="1.0" />
<polyline points="388.5,460.5 410.5,460.5" fill="none" stroke="#3a3a3a" stroke-width="1.0" />
<polyline points="433.5,460.5 444.5,460.5" fill="none" stroke="#3a3a3a" stroke-width="1.0" />
<polyline points="466.5,459.5 517.5,459.5 517.5,454.5" fill="none" stroke="#3a3a3a" stroke-width="1.0" />
<rect x="410.5" y="454.5" width="23" height="12" fill="none" stroke="#444" stroke-width="1.1"/>
<polyline points="410.5,466.5 433.5,466.5" fill="none" stroke="#555" stroke-width="1.6" />
<text x="422.15" y="463.74" font-size="9" text-anchor="middle" fill="#444" textLength="17" lengthAdjust="spacingAndGlyphs">E622</text>
<rect x="444.5" y="454.5" width="22" height="12" fill="none" stroke="#444" stroke-width="1.1"/>
<polyline points="444.5,466.5 466.5,466.5" fill="none" stroke="#555" stroke-width="1.6" />
<text x="455.5" y="463.74" font-size="9" text-anchor="middle" fill="#444" textLength="16" lengthAdjust="spacingAndGlyphs">IC71</text>
<polyline points="416.5,466.5 416.5,477.5 422.5,477.5" fill="none" stroke="#3a3a3a" stroke-width="1.0" />
<rect x="422.5" y="471.5" width="22" height="12" fill="none" stroke="#444" stroke-width="1.1"/>
<polyline points="422.5,483.5 444.5,483.5" fill="none" stroke="#555" stroke-width="1.6" />
<text x="433.35" y="480.49" font-size="9" text-anchor="middle" fill="#444" textLength="16" lengthAdjust="spacingAndGlyphs">IC70</text>
<polyline points="444.5,477.5 450.5,477.5 450.5,607.5 505.5,607.5" fill="none" stroke="#3a3a3a" stroke-width="1.0" />
<rect x="505.5" y="394.5" width="22" height="60" fill="none" stroke="#3a3a3a" stroke-width="1.1"/>
<text x="520.84" y="424.4" font-size="11.5" text-anchor="middle" fill="#505050" textLength="24" lengthAdjust="spacingAndGlyphs" transform="rotate(-90 520.84 424.4)">6207</text>
<polyline points="522.5,454.5 522.5,465.5" fill="none" stroke="#3a3a3a" stroke-width="1.0" />
<rect x="517.5" y="465.5" width="11" height="36" fill="none" stroke="#444" stroke-width="1.1"/>
<text x="526" y="483.4" font-size="9" text-anchor="middle" fill="#444" textLength="30" lengthAdjust="spacingAndGlyphs" transform="rotate(-90 526 483.4)">EM288</text>
<polyline points="522.5,501.5 522.5,578.5 516.5,578.5" fill="none" stroke="#3a3a3a" stroke-width="1.0" />
<polyline points="388.5,495.5 444.5,495.5 444.5,666.5 517.5,666.5 517.5,678.5" fill="none" stroke="#3a3a3a" stroke-width="1.0" />
<polyline points="388.5,506.5 433.5,506.5 433.5,672.5 500.5,672.5 500.5,678.5" fill="none" stroke="#ff3cff" stroke-width="1.0" />
<polyline points="388.5,506.5 400.5,518.5 488.5,518.5" fill="none" stroke="#ff3cff" stroke-width="1.0" />
<polyline points="388.5,530.5 488.5,530.5" fill="none" stroke="#3a3a3a" stroke-width="1.0" />
<rect x="488.5" y="512.5" width="28" height="24" fill="none" stroke="#3a3a3a" stroke-width="1.1"/>
<text x="502.8" y="528.94" font-size="11.5" text-anchor="middle" fill="#505050" textLength="24" lengthAdjust="spacingAndGlyphs">6570</text>
<polyline points="500.5,536.5 500.5,548.5 477.5,548.5 477.5,695.5 460.5,695.5 450.5,707.5" fill="none" stroke="#ff3cff" stroke-width="1.0" />
<polyline points="511.5,536.5 511.5,560.5 483.5,560.5 483.5,601.5 416.5,601.5 416.5,672.5 427.5,684.5" fill="none" stroke="#ff3cff" stroke-width="1.0" />
<polyline points="388.5,578.5 488.5,578.5" fill="none" stroke="#3a3a3a" stroke-width="1.0" />
<rect x="488.5" y="572.5" width="28" height="11" fill="none" stroke="#444" stroke-width="1.1"/>
<polyline points="488.5,583.5 516.5,583.5" fill="none" stroke="#555" stroke-width="1.6" />
<text x="502.8" y="581.52" font-size="9.5" text-anchor="middle" fill="#444" textLength="17" lengthAdjust="spacingAndGlyphs">IC71</text>
<polyline points="388.5,625.5 505.5,625.5" fill="none" stroke="#3a3a3a" stroke-width="1.0" />
<polyline points="388.5,636.5 505.5,636.5" fill="none" stroke="#3a3a3a" stroke-width="1.0" />
<rect x="505.5" y="601.5" width="22" height="59" fill="none" stroke="#3a3a3a" stroke-width="1.1"/>
<text x="520.94" y="631.2" font-size="11.5" text-anchor="middle" fill="#505050" textLength="24" lengthAdjust="spacingAndGlyphs" transform="rotate(-90 520.94 631.2)">6202</text>
<polyline points="388.5,684.5 427.5,684.5" fill="none" stroke="#ff3cff" stroke-width="1.0" />
<polyline points="449.5,684.5 483.5,684.5" fill="none" stroke="#ff3cff" stroke-width="1.0" />
<polyline points="388.5,707.5 427.5,707.5" fill="none" stroke="#ff3cff" stroke-width="1.0" />
<polyline points="449.5,707.5 483.5,707.5" fill="none" stroke="#ff3cff" stroke-width="1.0" />
<rect x="427.5" y="678.5" width="22" height="12" fill="none" stroke="#444" stroke-width="1.1"/>
<polyline points="427.5,690.5 449.5,690.5" fill="none" stroke="#555" stroke-width="1.6" />
<text x="438.5" y="687.59" font-size="9" text-anchor="middle" fill="#444" textLength="17" lengthAdjust="spacingAndGlyphs">EX12</text>
<rect x="427.5" y="701.5" width="22" height="12" fill="none" stroke="#444" stroke-width="1.1"/>
<polyline points="427.5,713.5 449.5,713.5" fill="none" stroke="#555" stroke-width="1.6" />
<text x="438.5" y="710.84" font-size="9" text-anchor="middle" fill="#444" textLength="17" lengthAdjust="spacingAndGlyphs">EX13</text>
<rect x="483.5" y="678.5" width="44" height="47" fill="none" stroke="#3a3a3a" stroke-width="1.1"/>
<text x="505.5" y="706.29" font-size="11.5" text-anchor="middle" fill="#505050" textLength="24" lengthAdjust="spacingAndGlyphs">CV00</text>
<rect x="283.5" y="625.5" width="44" height="47" fill="none" stroke="#3a3a3a" stroke-width="1.0"/>
<rect x="294.5" y="636.5" width="22" height="24" fill="none" stroke="#333" stroke-width="1.0"/>
<rect x="299.5" y="639.5" width="12" height="20" fill="none" stroke="#333" stroke-width="1.0"/>
<polyline points="295.5,640.5 298.5,640.5" fill="none" stroke="#777" stroke-width="1" />
<polyline points="312.5,640.5 315.5,640.5" fill="none" stroke="#777" stroke-width="1" />
<polyline points="295.5,644.5 298.5,644.5" fill="none" stroke="#777" stroke-width="1" />
<polyline points="312.5,644.5 315.5,644.5" fill="none" stroke="#777" stroke-width="1" />
<polyline points="295.5,648.5 298.5,648.5" fill="none" stroke="#777" stroke-width="1" />
<polyline points="312.5,648.5 315.5,648.5" fill="none" stroke="#777" stroke-width="1" />
<polyline points="295.5,652.5 298.5,652.5" fill="none" stroke="#777" stroke-width="1" />
<polyline points="312.5,652.5 315.5,652.5" fill="none" stroke="#777" stroke-width="1" />
<polyline points="295.5,656.5 298.5,656.5" fill="none" stroke="#777" stroke-width="1" />
<polyline points="312.5,656.5 315.5,656.5" fill="none" stroke="#777" stroke-width="1" />
<path d="M303.5,639.5 a2,2 0 0 0 4,0" fill="none" stroke="#333" stroke-width="0.9"/>
<polyline points="305.5,625.5 305.5,578.5 377.5,578.5" fill="none" stroke="#3a3a3a" stroke-width="1.0" />
<polyline points="310.5,625.5 310.5,589.5 377.5,589.5" fill="none" stroke="#3a3a3a" stroke-width="1.0" />
<polyline points="322.5,625.5 322.5,613.5 377.5,613.5" fill="none" stroke="#3a3a3a" stroke-width="1.0" />
<polyline points="327.5,642.5 343.5,642.5 343.5,625.5 377.5,625.5" fill="none" stroke="#3a3a3a" stroke-width="1.0" />
<polyline points="327.5,654.5 349.5,654.5 349.5,636.5 377.5,636.5" fill="none" stroke="#3a3a3a" stroke-width="1.0" />
<polyline points="322.5,672.5 322.5,684.5 377.5,684.5" fill="none" stroke="#3a3a3a" stroke-width="1.0" />
<polyline points="310.5,672.5 310.5,707.5 377.5,707.5" fill="none" stroke="#3a3a3a" stroke-width="1.0" />
<polyline points="288.5,672.5 288.5,955.5 377.5,955.5" fill="none" stroke="#3a3a3a" stroke-width="1.0" />
<polyline points="293.5,672.5 293.5,932.5 377.5,932.5" fill="none" stroke="#3a3a3a" stroke-width="1.0" />
<polyline points="271.5,554.5 271.5,713.5 299.5,713.5 299.5,867.5 377.5,867.5" fill="none" stroke="#3a3a3a" stroke-width="1.0" />
<polyline points="299.5,843.5 377.5,843.5" fill="none" stroke="#3a3a3a" stroke-width="1.0" />
<circle cx="271.75" cy="554.25" r="1.6" fill="#7a0000"/>
<circle cx="299.5" cy="843.75" r="1.6" fill="#7a0000"/>
<polyline points="238.5,465.5 249.5,465.5 249.5,749.5 258.5,749.5" fill="none" stroke="#3a3a3a" stroke-width="1.0" />
<circle cx="249.4" cy="506.9" r="1.6" fill="#7a0000"/>
<polyline points="249.5,506.5 322.5,506.5 322.5,530.5 377.5,530.5" fill="none" stroke="#3a3a3a" stroke-width="1.0" />
<rect x="258.5" y="747.5" width="15" height="4" fill="none" stroke="#555" stroke-width="1.0"/>
<polyline points="258.5,749.5 273.5,749.5" fill="none" stroke="#777" stroke-width="0.8" />
<polyline points="273.5,749.5 377.5,749.5" fill="none" stroke="#3a3a3a" stroke-width="1.0" />
<circle cx="355.5" cy="749.5" r="1.6" fill="#7a0000"/>
<text x="258.75" y="746" font-size="10" text-anchor="start" fill="#505050" textLength="15" lengthAdjust="spacingAndGlyphs">F18</text>
<polyline points="377.5,772.5 338.5,772.5 338.5,778.5" fill="none" stroke="#3a3a3a" stroke-width="1.0" />
<circle cx="338.75" cy="781" r="2.4" fill="#fff" stroke="#3a3a3a" stroke-width="0.9"/>
<polyline points="333.5,784.5 345.5,784.5" fill="none" stroke="#3d3dff" stroke-width="1" />
<line x1="334" y1="788.8" x2="336.2" y2="791" stroke="#444" stroke-width="0.75"/>
<line x1="334" y1="786.6" x2="338.4" y2="791" stroke="#444" stroke-width="0.75"/>
<line x1="334.9" y1="785.3" x2="340.6" y2="791" stroke="#444" stroke-width="0.75"/>
<line x1="337.1" y1="785.3" x2="342.8" y2="791" stroke="#444" stroke-width="0.75"/>
<line x1="339.3" y1="785.3" x2="345" y2="791" stroke="#444" stroke-width="0.75"/>
<line x1="341.5" y1="785.3" x2="345" y2="788.8" stroke="#444" stroke-width="0.75"/>
<line x1="343.7" y1="785.3" x2="345" y2="786.6" stroke="#444" stroke-width="0.75"/>
<polyline points="366.5,808.5 377.5,808.5" fill="none" stroke="#3a3a3a" stroke-width="1.0" />
<circle cx="366.5" cy="808.25" r="1.6" fill="#7a0000"/>
<polyline points="388.5,749.5 472.5,749.5 472.5,719.5 483.5,719.5" fill="none" stroke="#3a3a3a" stroke-width="1.0" />
<polyline points="388.5,749.5 400.5,761.5 489.5,761.5 489.5,725.5" fill="none" stroke="#3a3a3a" stroke-width="1.0" />
<polyline points="388.5,772.5 427.5,772.5" fill="none" stroke="#3a3a3a" stroke-width="1.0" />
<polyline points="450.5,772.5 467.5,772.5 467.5,778.5" fill="none" stroke="#3a3a3a" stroke-width="1.0" />
<rect x="427.5" y="766.5" width="23" height="12" fill="none" stroke="#444" stroke-width="1.1"/>
<polyline points="427.5,778.5 450.5,778.5" fill="none" stroke="#555" stroke-width="1.6" />
<text x="438.75" y="776.4" font-size="10" text-anchor="middle" fill="#444" textLength="20" lengthAdjust="spacingAndGlyphs">EM10B</text>
<circle cx="467" cy="781" r="2.4" fill="#fff" stroke="#3a3a3a" stroke-width="0.9"/>
<polyline points="455.5,784.5 479.5,784.5" fill="none" stroke="#333" stroke-width="1" />
<line x1="456" y1="791.8" x2="458.2" y2="794" stroke="#444" stroke-width="0.75"/>
<line x1="456" y1="789.6" x2="460.4" y2="794" stroke="#444" stroke-width="0.75"/>
<line x1="456" y1="787.4" x2="462.6" y2="794" stroke="#444" stroke-width="0.75"/>
<line x1="456.1" y1="785.3" x2="464.8" y2="794" stroke="#444" stroke-width="0.75"/>
<line x1="458.3" y1="785.3" x2="467" y2="794" stroke="#444" stroke-width="0.75"/>
<line x1="460.5" y1="785.3" x2="469.2" y2="794" stroke="#444" stroke-width="0.75"/>
<line x1="462.7" y1="785.3" x2="471.4" y2="794" stroke="#444" stroke-width="0.75"/>
<line x1="464.9" y1="785.3" x2="473.6" y2="794" stroke="#444" stroke-width="0.75"/>
<line x1="467.1" y1="785.3" x2="475.8" y2="794" stroke="#444" stroke-width="0.75"/>
<line x1="469.3" y1="785.3" x2="478" y2="794" stroke="#444" stroke-width="0.75"/>
<line x1="471.5" y1="785.3" x2="479" y2="792.8" stroke="#444" stroke-width="0.75"/>
<line x1="473.7" y1="785.3" x2="479" y2="790.6" stroke="#444" stroke-width="0.75"/>
<line x1="475.9" y1="785.3" x2="479" y2="788.4" stroke="#444" stroke-width="0.75"/>
<line x1="478.1" y1="785.3" x2="479" y2="786.2" stroke="#444" stroke-width="0.75"/>
<text x="456" y="802.5" font-size="10" text-anchor="start" fill="#505050" textLength="21.5" lengthAdjust="spacingAndGlyphs">MC10</text>
<polyline points="388.5,808.5 477.5,808.5 477.5,820.5 488.5,820.5" fill="none" stroke="#3a3a3a" stroke-width="1.0" />
<rect x="488.5" y="814.5" width="24" height="11" fill="none" stroke="#555" stroke-width="1.1" stroke-dasharray="4.5,3"/>
<text x="500" y="823.2" font-size="9.5" text-anchor="middle" fill="#3a3a3a" textLength="18" lengthAdjust="spacingAndGlyphs">2615</text>
<polyline points="388.5,820.5 467.5,820.5 467.5,843.5 488.5,843.5" fill="none" stroke="#3a3a3a" stroke-width="1.0" />
<rect x="488.5" y="832.5" width="24" height="24" fill="none" stroke="#555" stroke-width="1.1" stroke-dasharray="4.5,3"/>
<text x="500" y="847" font-size="9.5" text-anchor="middle" fill="#3a3a3a" textLength="18" lengthAdjust="spacingAndGlyphs">6600</text>
<polyline points="388.5,831.5 438.5,831.5" fill="none" stroke="#3a3a3a" stroke-width="1.0" />
<rect x="438.5" y="826.5" width="24" height="11" fill="none" stroke="#555" stroke-width="1.1" stroke-dasharray="4.5,3"/>
<text x="450.4" y="835" font-size="9" text-anchor="middle" fill="#3a3a3a" textLength="17" lengthAdjust="spacingAndGlyphs">EC18</text>
<polyline points="388.5,843.5 433.5,843.5 433.5,873.5 488.5,873.5" fill="none" stroke="#ff3cff" stroke-width="1.0" />
<rect x="488.5" y="868.5" width="24" height="10" fill="none" stroke="#555" stroke-width="1.1" stroke-dasharray="4.5,3"/>
<text x="500" y="876.5" font-size="9.5" text-anchor="middle" fill="#3a3a3a" textLength="18" lengthAdjust="spacingAndGlyphs">9602</text>
<polyline points="388.5,867.5 427.5,867.5 427.5,902.5 488.5,902.5" fill="none" stroke="#ff3cff" stroke-width="1.0" />
<rect x="488.5" y="897.5" width="24" height="11" fill="none" stroke="#555" stroke-width="1.1" stroke-dasharray="4.5,3"/>
<text x="500" y="905.5" font-size="9.5" text-anchor="middle" fill="#3a3a3a" textLength="18" lengthAdjust="spacingAndGlyphs">BM34</text>
<polyline points="388.5,932.5 461.5,932.5" fill="none" stroke="#ff3cff" stroke-width="1.0" />
<polyline points="483.5,932.5 517.5,932.5 517.5,725.5" fill="none" stroke="#ff3cff" stroke-width="1.0" />
<polyline points="388.5,955.5 461.5,955.5" fill="none" stroke="#ff3cff" stroke-width="1.0" />
<polyline points="483.5,955.5 522.5,955.5 522.5,725.5" fill="none" stroke="#ff3cff" stroke-width="1.0" />
<rect x="461.5" y="926.5" width="22" height="12" fill="none" stroke="#444" stroke-width="1.1"/>
<polyline points="461.5,938.5 483.5,938.5" fill="none" stroke="#555" stroke-width="1.6" />
<text x="472.12" y="935.37" font-size="9" text-anchor="middle" fill="#444" textLength="17" lengthAdjust="spacingAndGlyphs">E901</text>
<rect x="461.5" y="949.5" width="22" height="12" fill="none" stroke="#444" stroke-width="1.1"/>
<polyline points="461.5,961.5 483.5,961.5" fill="none" stroke="#555" stroke-width="1.6" />
<text x="472.12" y="958.62" font-size="9" text-anchor="middle" fill="#444" textLength="17" lengthAdjust="spacingAndGlyphs">E900</text>
<polyline points="461.5,932.5 449.5,944.5 439.5,944.5 439.5,997.5 466.5,997.5" fill="none" stroke="#ff3cff" stroke-width="1.0" />
<polyline points="461.5,955.5 449.5,968.5 449.5,979.5 466.5,979.5" fill="none" stroke="#ff3cff" stroke-width="1.0" />
<rect x="466.5" y="973.5" width="45" height="30" fill="none" stroke="#3a3a3a" stroke-width="1.0"/>
<text x="488.75" y="995" font-size="11.5" text-anchor="middle" fill="#505050" textLength="24" lengthAdjust="spacingAndGlyphs">7020</text>
<polyline points="239.5,449.5 239.5,472.5" fill="none" stroke="#9a9aff" stroke-width="1" />
<rect x="227.5" y="448.5" width="11" height="11" fill="none" stroke="#3d3dff" stroke-width="1.2"/>
<text x="233.15" y="457.45" font-size="10" text-anchor="middle" fill="#333" textLength="4.6" lengthAdjust="spacingAndGlyphs">1</text>
<rect x="227.5" y="459.5" width="11" height="12" fill="none" stroke="#3d3dff" stroke-width="1.2"/>
<text x="233.15" y="469.15" font-size="10" text-anchor="middle" fill="#333" textLength="4.6" lengthAdjust="spacingAndGlyphs">2</text>
<polyline points="239.5,513.5 239.5,537.5" fill="none" stroke="#9a9aff" stroke-width="1" />
<rect x="227.5" y="512.5" width="11" height="12" fill="none" stroke="#3d3dff" stroke-width="1.2"/>
<text x="233.15" y="522.27" font-size="10" text-anchor="middle" fill="#333" textLength="4.6" lengthAdjust="spacingAndGlyphs">2</text>
<rect x="227.5" y="524.5" width="11" height="12" fill="none" stroke="#3d3dff" stroke-width="1.2"/>
<text x="233.15" y="534.02" font-size="10" text-anchor="middle" fill="#333" textLength="4.6" lengthAdjust="spacingAndGlyphs">1</text>
<rect x="171.5" y="406.5" width="45" height="24" fill="none" stroke="#3a3a3a" stroke-width="1.1"/>
<text x="194" y="422.39" font-size="11.5" text-anchor="middle" fill="#505050" textLength="24" lengthAdjust="spacingAndGlyphs">CA00</text>
<rect x="177.5" y="430.5" width="11" height="12" fill="none" stroke="#555" stroke-width="1.1"/>
<polyline points="183.5,431.5 183.5,571.5" fill="none" stroke="#3a3a3a" stroke-width="1.0" />
<polyline points="193.5,430.5 193.5,465.5 227.5,465.5" fill="none" stroke="#3a3a3a" stroke-width="1.0" />
<polyline points="205.5,430.5 205.5,453.5 227.5,453.5" fill="none" stroke="#3a3a3a" stroke-width="1.0" />
<text x="206.6" y="442.9" font-size="10.5" text-anchor="start" fill="#505050" textLength="27" lengthAdjust="spacingAndGlyphs">2V  NR</text>
<text x="208.8" y="452.5" font-size="10.5" text-anchor="start" fill="#505050" textLength="13.2" lengthAdjust="spacingAndGlyphs">+CC</text>
<text x="208.8" y="464.3" font-size="10.5" text-anchor="start" fill="#505050" textLength="14.7" lengthAdjust="spacingAndGlyphs">+AA</text>
<text x="172.8" y="464" font-size="11" text-anchor="start" fill="#505050" textLength="27" lengthAdjust="spacingAndGlyphs" transform="rotate(-90 172.8 464)">3V  VE</text>
<text x="181.6" y="468" font-size="10.5" text-anchor="start" fill="#505050" textLength="21.4" lengthAdjust="spacingAndGlyphs" transform="rotate(-90 181.6 468)">BF07</text>
<text x="205" y="508.4" font-size="10.5" text-anchor="start" fill="#505050" textLength="28" lengthAdjust="spacingAndGlyphs">2V  GR</text>
<text x="202" y="518" font-size="10.5" text-anchor="start" fill="#505050" textLength="20.8" lengthAdjust="spacingAndGlyphs">BF05</text>
<text x="202" y="529" font-size="10.5" text-anchor="start" fill="#505050" textLength="20" lengthAdjust="spacingAndGlyphs">BF04</text>
<polyline points="227.5,518.5 193.5,518.5 193.5,571.5" fill="none" stroke="#3a3a3a" stroke-width="1.0" />
<polyline points="227.5,530.5 205.5,530.5 205.5,571.5" fill="none" stroke="#3a3a3a" stroke-width="1.0" />
<text x="172.2" y="572.6" font-size="11" text-anchor="start" fill="#505050" textLength="28.6" lengthAdjust="spacingAndGlyphs" transform="rotate(-90 172.2 572.6)">8V  NR</text>
<text x="181.6" y="570" font-size="10.5" text-anchor="start" fill="#505050" textLength="21" lengthAdjust="spacingAndGlyphs" transform="rotate(-90 181.6 570)">BF07</text>
<text x="192.6" y="570" font-size="10.5" text-anchor="start" fill="#505050" textLength="21" lengthAdjust="spacingAndGlyphs" transform="rotate(-90 192.6 570)">BF05</text>
<text x="203.7" y="570" font-size="10.5" text-anchor="start" fill="#505050" textLength="21" lengthAdjust="spacingAndGlyphs" transform="rotate(-90 203.7 570)">BF04</text>
<rect x="177.5" y="571.5" width="11" height="12" fill="none" stroke="#444" stroke-width="1.1"/>
<text x="182.8" y="581.6" font-size="10.5" text-anchor="middle" fill="#505050" textLength="5.5" lengthAdjust="spacingAndGlyphs">7</text>
<rect x="188.5" y="571.5" width="11" height="12" fill="none" stroke="#444" stroke-width="1.1"/>
<text x="193.83" y="581.6" font-size="10.5" text-anchor="middle" fill="#505050" textLength="5.5" lengthAdjust="spacingAndGlyphs">5</text>
<rect x="199.5" y="571.5" width="11" height="12" fill="none" stroke="#444" stroke-width="1.1"/>
<text x="204.86" y="581.6" font-size="10.5" text-anchor="middle" fill="#505050" textLength="5.5" lengthAdjust="spacingAndGlyphs">4</text>
<rect x="171.5" y="583.5" width="45" height="60" fill="none" stroke="#444" stroke-width="1.1"/>
<polyline points="182.5,583.5 182.5,601.5" fill="none" stroke="#3a3a3a" stroke-width="1.0" />
<rect x="179.5" y="601.5" width="6" height="24" fill="none" stroke="#555" stroke-width="1.0"/>
<polyline points="182.5,601.5 182.5,625.5" fill="none" stroke="#777" stroke-width="0.8" />
<polyline points="182.5,625.5 182.5,643.5" fill="none" stroke="#3a3a3a" stroke-width="1.0" />
<polyline points="193.5,583.5 193.5,589.5 196.5,589.5 196.5,601.5" fill="none" stroke="#3a3a3a" stroke-width="1.0" />
<rect x="193.5" y="601.5" width="7" height="24" fill="none" stroke="#555" stroke-width="1.0"/>
<polyline points="196.5,601.5 196.5,625.5" fill="none" stroke="#777" stroke-width="0.8" />
<polyline points="196.5,625.5 196.5,631.5" fill="none" stroke="#3a3a3a" stroke-width="1.0" />
<polyline points="205.5,583.5 205.5,589.5 210.5,589.5 210.5,601.5" fill="none" stroke="#3a3a3a" stroke-width="1.0" />
<rect x="207.5" y="601.5" width="6" height="24" fill="none" stroke="#555" stroke-width="1.0"/>
<polyline points="210.5,601.5 210.5,625.5" fill="none" stroke="#777" stroke-width="0.8" />
<polyline points="210.5,625.5 210.5,631.5 182.5,631.5" fill="none" stroke="#3a3a3a" stroke-width="1.0" />
<circle cx="182.6" cy="631.2" r="1.6" fill="#7a0000"/>
<circle cx="196.8" cy="631.2" r="1.6" fill="#7a0000"/>
<text x="178.7" y="622" font-size="9.5" text-anchor="start" fill="#505050" textLength="16" lengthAdjust="spacingAndGlyphs" transform="rotate(-90 178.7 622)">MF7</text>
<text x="192.6" y="620" font-size="9.5" text-anchor="start" fill="#505050" textLength="14.5" lengthAdjust="spacingAndGlyphs" transform="rotate(-90 192.6 620)">MF5</text>
<text x="206" y="625" font-size="9.5" text-anchor="start" fill="#505050" textLength="16" lengthAdjust="spacingAndGlyphs" transform="rotate(-90 206 625)">MF4</text>
<circle cx="182.6" cy="645.4" r="2.3" fill="#fff" stroke="#3a3a3a" stroke-width="0.9"/>
<polyline points="182.5,647.5 182.5,730.5" fill="none" stroke="#3a3a3a" stroke-width="1.0" />
<text x="200" y="658.7" font-size="11" text-anchor="start" fill="#505050" textLength="20" lengthAdjust="spacingAndGlyphs">BM34</text>
<text x="181.6" y="669" font-size="10.5" text-anchor="start" fill="#505050" textLength="15.5" lengthAdjust="spacingAndGlyphs" transform="rotate(-90 181.6 669)">B03</text>
<text x="181.2" y="726.8" font-size="10.5" text-anchor="start" fill="#505050" textLength="17.5" lengthAdjust="spacingAndGlyphs" transform="rotate(-90 181.2 726.8)">B03</text>
<circle cx="182.6" cy="733.2" r="2.2" fill="#fff" stroke="#3a3a3a" stroke-width="0.9"/>
<rect x="174.5" y="737.5" width="17" height="71" fill="none" stroke="#000" stroke-width="3"/>
<polyline points="182.5,739.5 182.5,807.5" fill="none" stroke="#666" stroke-width="0.8" />
<rect x="177.5" y="742.5" width="10" height="2" fill="#1e62e8" stroke="#0a2a80" stroke-width="0.5"/>
<rect x="179.5" y="746.5" width="6" height="3" fill="#1e62e8" stroke="#0a2a80" stroke-width="0.6"/>
<rect x="177.5" y="753.5" width="10" height="2" fill="#1e62e8" stroke="#0a2a80" stroke-width="0.5"/>
<rect x="179.5" y="757.5" width="6" height="3" fill="#1e62e8" stroke="#0a2a80" stroke-width="0.6"/>
<rect x="177.5" y="764.5" width="10" height="2" fill="#1e62e8" stroke="#0a2a80" stroke-width="0.5"/>
<rect x="179.5" y="768.5" width="6" height="3" fill="#1e62e8" stroke="#0a2a80" stroke-width="0.6"/>
<rect x="177.5" y="774.5" width="10" height="3" fill="#1e62e8" stroke="#0a2a80" stroke-width="0.5"/>
<rect x="179.5" y="779.5" width="6" height="3" fill="#1e62e8" stroke="#0a2a80" stroke-width="0.6"/>
<rect x="177.5" y="785.5" width="10" height="2" fill="#1e62e8" stroke="#0a2a80" stroke-width="0.5"/>
<rect x="179.5" y="790.5" width="6" height="2" fill="#1e62e8" stroke="#0a2a80" stroke-width="0.6"/>
<rect x="177.5" y="796.5" width="10" height="2" fill="#1e62e8" stroke="#0a2a80" stroke-width="0.5"/>
<rect x="179.5" y="800.5" width="6" height="3" fill="#1e62e8" stroke="#0a2a80" stroke-width="0.6"/>
<circle cx="182.6" cy="811.5" r="2.2" fill="#fff" stroke="#3a3a3a" stroke-width="0.9"/>
<text x="198" y="777" font-size="11" text-anchor="start" fill="#505050" textLength="23.8" lengthAdjust="spacingAndGlyphs">BB00</text>
<polyline points="182.5,813.5 182.5,909.5" fill="none" stroke="#3a3a3a" stroke-width="1.0" />
<text x="181.2" y="835.3" font-size="10.5" text-anchor="start" fill="#505050" textLength="17.7" lengthAdjust="spacingAndGlyphs" transform="rotate(-90 181.2 835.3)">MMF</text>
<text x="180.7" y="910" font-size="10.5" text-anchor="start" fill="#505050" textLength="39.3" lengthAdjust="spacingAndGlyphs" transform="rotate(-90 180.7 910)">MCF/MMF</text>
<text x="213.6" y="910" font-size="10.5" text-anchor="start" fill="#505050" textLength="17" lengthAdjust="spacingAndGlyphs" transform="rotate(-90 213.6 910)">MCF</text>
<circle cx="182.9" cy="911.7" r="2.3" fill="#fff" stroke="#3a3a3a" stroke-width="0.9"/>
<circle cx="216" cy="911.7" r="2.3" fill="#fff" stroke="#3a3a3a" stroke-width="0.9"/>
<polyline points="182.5,911.5 194.5,878.5 216.5,878.5 216.5,909.5" fill="none" stroke="#3a3a3a" stroke-width="1.0" />
<polyline points="171.5,914.5 192.5,914.5" fill="none" stroke="#333" stroke-width="1.1" />
<line x1="172.1" y1="921.6" x2="174.3" y2="923.8" stroke="#444" stroke-width="0.75"/>
<line x1="172.1" y1="919.4" x2="176.5" y2="923.8" stroke="#444" stroke-width="0.75"/>
<line x1="172.1" y1="917.2" x2="178.7" y2="923.8" stroke="#444" stroke-width="0.75"/>
<line x1="172.4" y1="915.3" x2="180.9" y2="923.8" stroke="#444" stroke-width="0.75"/>
<line x1="174.6" y1="915.3" x2="183.1" y2="923.8" stroke="#444" stroke-width="0.75"/>
<line x1="176.8" y1="915.3" x2="185.3" y2="923.8" stroke="#444" stroke-width="0.75"/>
<line x1="179" y1="915.3" x2="187.5" y2="923.8" stroke="#444" stroke-width="0.75"/>
<line x1="181.2" y1="915.3" x2="189.7" y2="923.8" stroke="#444" stroke-width="0.75"/>
<line x1="183.4" y1="915.3" x2="191.9" y2="923.8" stroke="#444" stroke-width="0.75"/>
<line x1="185.6" y1="915.3" x2="194.1" y2="923.8" stroke="#444" stroke-width="0.75"/>
<line x1="187.8" y1="915.3" x2="194.9" y2="922.4" stroke="#444" stroke-width="0.75"/>
<line x1="190" y1="915.3" x2="194.9" y2="920.2" stroke="#444" stroke-width="0.75"/>
<line x1="192.2" y1="915.3" x2="194.9" y2="918" stroke="#444" stroke-width="0.75"/>
<line x1="194.4" y1="915.3" x2="194.9" y2="915.8" stroke="#444" stroke-width="0.75"/>
<polyline points="204.5,914.5 225.5,914.5" fill="none" stroke="#333" stroke-width="1.1" />
<line x1="205" y1="921.6" x2="207.2" y2="923.8" stroke="#444" stroke-width="0.75"/>
<line x1="205" y1="919.4" x2="209.4" y2="923.8" stroke="#444" stroke-width="0.75"/>
<line x1="205" y1="917.2" x2="211.6" y2="923.8" stroke="#444" stroke-width="0.75"/>
<line x1="205.3" y1="915.3" x2="213.8" y2="923.8" stroke="#444" stroke-width="0.75"/>
<line x1="207.5" y1="915.3" x2="216" y2="923.8" stroke="#444" stroke-width="0.75"/>
<line x1="209.7" y1="915.3" x2="218.2" y2="923.8" stroke="#444" stroke-width="0.75"/>
<line x1="211.9" y1="915.3" x2="220.4" y2="923.8" stroke="#444" stroke-width="0.75"/>
<line x1="214.1" y1="915.3" x2="222.6" y2="923.8" stroke="#444" stroke-width="0.75"/>
<line x1="216.3" y1="915.3" x2="224.8" y2="923.8" stroke="#444" stroke-width="0.75"/>
<line x1="218.5" y1="915.3" x2="227" y2="923.8" stroke="#444" stroke-width="0.75"/>
<line x1="220.7" y1="915.3" x2="227.7" y2="922.3" stroke="#444" stroke-width="0.75"/>
<line x1="222.9" y1="915.3" x2="227.7" y2="920.1" stroke="#444" stroke-width="0.75"/>
<line x1="225.1" y1="915.3" x2="227.7" y2="917.9" stroke="#444" stroke-width="0.75"/>
<line x1="227.3" y1="915.3" x2="227.7" y2="915.7" stroke="#444" stroke-width="0.75"/>
<text x="172" y="937" font-size="11" text-anchor="start" fill="#505050" textLength="20" lengthAdjust="spacingAndGlyphs">MM01</text>
<text x="205.7" y="937" font-size="11" text-anchor="start" fill="#505050" textLength="20.7" lengthAdjust="spacingAndGlyphs">MC13</text>
</svg></body></html>
